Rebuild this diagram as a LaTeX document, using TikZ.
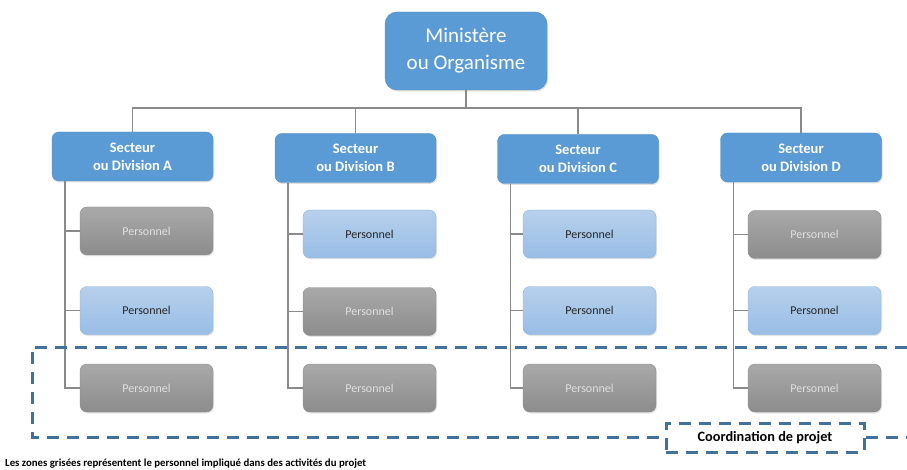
\documentclass[tikz,border=0pt]{standalone}
\usepackage{fontspec}
\setmainfont{Carlito}
\usetikzlibrary{shadows}
\definecolor{divblue}{HTML}{5B9BD5}
\definecolor{divedge}{HTML}{4F8CC6}
\definecolor{pbluetop}{HTML}{B7D0EC}
\definecolor{pbluebot}{HTML}{98BDE5}
\definecolor{pblueedge}{HTML}{8DB4E0}
\definecolor{pgraytop}{HTML}{A9A9A9}
\definecolor{pgraybot}{HTML}{8C8C8C}
\definecolor{linkgray}{HTML}{8A8A8A}
\definecolor{zoneblue}{HTML}{41719C}
\tikzset{
  ministry/.style={draw=divedge, fill=divblue, rounded corners=12pt,
    minimum width=162pt, minimum height=78pt, align=center, text=white,
    font=\fontsize{21}{27}\selectfont,
    drop shadow={opacity=0.25, shadow xshift=1pt, shadow yshift=-1.5pt}},
  division/.style={draw=divedge, fill=divblue, rounded corners=7pt,
    minimum width=161pt, minimum height=49pt, align=center, text=white,
    font=\fontsize{14.5}{18}\selectfont\bfseries,
    drop shadow={opacity=0.25, shadow xshift=1pt, shadow yshift=-1.5pt}},
  staffblue/.style={draw=pblueedge, top color=pbluetop, bottom color=pbluebot,
    rounded corners=7pt, minimum width=133pt, minimum height=48pt,
    text=black!85, font=\fontsize{12}{14}\selectfont,
    drop shadow={opacity=0.2, shadow xshift=1pt, shadow yshift=-1.5pt}},
  staffgray/.style={draw=pgraybot, top color=pgraytop, bottom color=pgraybot,
    rounded corners=7pt, minimum width=133pt, minimum height=48pt,
    text=black!12, font=\fontsize{12}{14}\selectfont,
    drop shadow={opacity=0.2, shadow xshift=1pt, shadow yshift=-1.5pt}},
  link/.style={draw=linkgray, line width=1.4pt},
  zone/.style={draw=zoneblue, line width=3pt, dash pattern=on 12pt off 8pt},
}
\begin{document}
\begin{tikzpicture}[x=1pt, y=-1pt]
\useasboundingbox[fill=white] (0,0) rectangle (907,470);

% top of the hierarchy
\node[ministry] (top) at (466,51) {Ministère\\ou Organisme};

% sectors
\node[division] (dA) at (132.5,156.5) {Secteur\\ou Division A};
\node[division] (dB) at (355.5,158) {Secteur\\ou Division B};
\node[division] (dC) at (578,159) {Secteur\\ou Division C};
\node[division] (dD) at (801,157.5) {Secteur\\ou Division D};

% staff under each sector
\node[staffgray] (pA1) at (146.5,231) {Personnel};
\node[staffblue] (pA2) at (146.5,310.5) {Personnel};
\node[staffgray] (pA3) at (146.5,388) {Personnel};

\node[staffblue] (pB1) at (369.5,234) {Personnel};
\node[staffgray] (pB2) at (369.5,311.5) {Personnel};
\node[staffgray] (pB3) at (369.5,388) {Personnel};

\node[staffblue] (pC1) at (589.5,234) {Personnel};
\node[staffblue] (pC2) at (589.5,310.5) {Personnel};
\node[staffgray] (pC3) at (589.5,388) {Personnel};

\node[staffgray] (pD1) at (814.5,234.5) {Personnel};
\node[staffblue] (pD2) at (814.5,310.5) {Personnel};
\node[staffgray] (pD3) at (814.5,388) {Personnel};

% bus from the top node to the sectors
\coordinate (bus) at (0,108);
\draw[link] (top.south) -- (top.south |- bus);
\draw[link] (dA.north) |- (dD.north |- bus) -- (dD.north);
\draw[link] (dB.north) -- (dB.north |- bus);
\draw[link] (dC.north) -- (dC.north |- bus);

% spines from each sector to its staff
\foreach \d in {A,B,C,D}{
  \coordinate (s\d) at ([xshift=13pt]d\d.south west);
  \draw[link] (s\d) |- (p\d3.west);
  \draw[link] (s\d |- p\d1.west) -- (p\d1.west);
  \draw[link] (s\d |- p\d2.west) -- (p\d2.west);
}

% project zone
\coordinate (zTR) at (907,347);
\coordinate (zTL) at (32,347);
\coordinate (zBL) at (32,437);
\coordinate (zBR) at (907,437);
\node[zone, minimum width=198pt, minimum height=29pt, inner sep=0pt,
      font=\fontsize{14.3}{16}\selectfont\bfseries] (coord) at (765,437.5)
      {Coordination de projet};
\draw[zone] (zTR) -- (zTL) -- (zBL) -- (zBL -| coord.west);
\draw[zone] (coord.east |- zBR) -- (zBR);

% legend
\node[anchor=base west, inner sep=0pt, font=\fontsize{10.8}{12}\selectfont\bfseries]
  (note) at (5,466) {Les zones grisées représentent le personnel impliqué dans des activités du projet};
\end{tikzpicture}
\end{document}
